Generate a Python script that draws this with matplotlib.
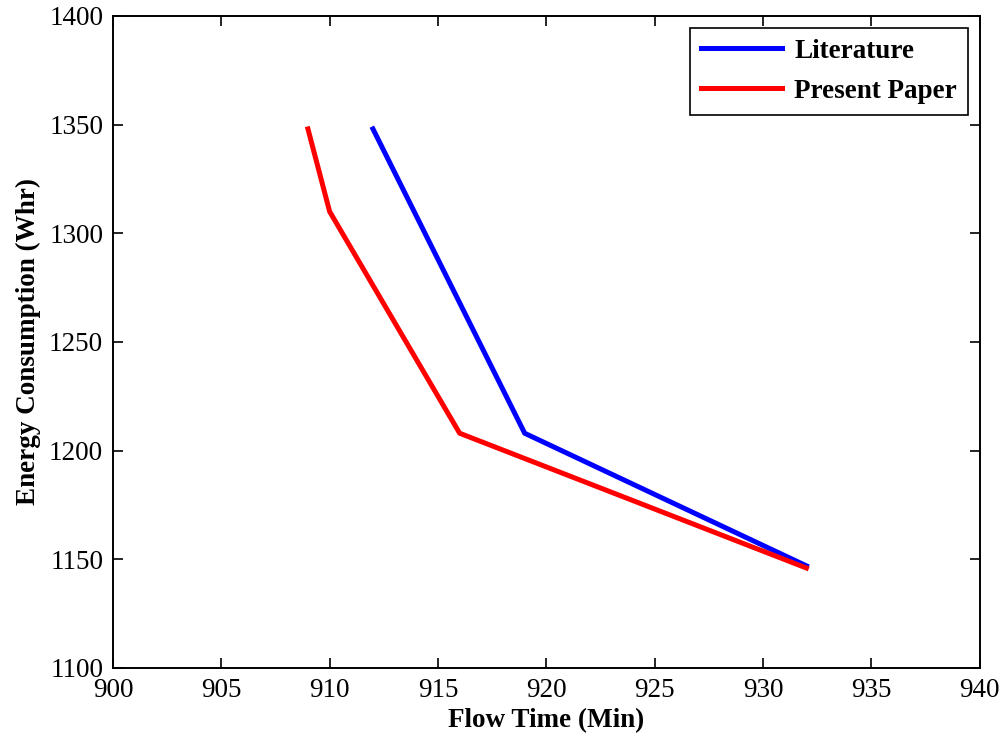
import matplotlib
matplotlib.use('Agg')
import matplotlib.pyplot as plt

lit_time = [912, 919, 932]
lit_energy = [1348, 1208, 1147]

pp_time = [909, 910, 916, 932]
pp_energy = [1348, 1310, 1208, 1146]

xticks = [900, 905, 910, 915, 920, 925, 930, 935, 940]
yticks = [1100, 1150, 1200, 1250, 1300, 1350, 1400]


def main():
    plt.rcParams['font.family'] = ['Liberation Serif', 'DejaVu Serif']
    fig = plt.figure(figsize=(10.08, 7.36), dpi=100)
    ax = fig.add_axes([0.112, 0.0924, 0.860, 0.886])

    ax.plot(lit_time, lit_energy, color='#0000ff', lw=3.6, label='Literature')
    ax.plot(pp_time, pp_energy, color='#ff0000', lw=3.6, label='Present Paper')

    ax.set_xlim(900, 940)
    ax.set_ylim(1100, 1400)
    ax.set_xticks(xticks)
    ax.set_yticks(yticks)
    ax.tick_params(direction='in', top=True, right=True, length=7, width=1.2,
                   labelsize=19.5)
    ax.tick_params(axis='y', pad=7)
    ax.tick_params(axis='x', pad=7)
    for s in ax.spines.values():
        s.set_linewidth(1.4)

    ax.set_xlabel('Flow Time (Min)', fontsize=19.5, fontweight='bold', labelpad=4)
    ax.set_ylabel('Energy Consumption (Whr)', fontsize=19.5, fontweight='bold', labelpad=6)

    leg = ax.legend(loc='upper right', prop={'weight': 'bold', 'size': 19.5},
                    fancybox=False, edgecolor='black', framealpha=1,
                    handlelength=3.0, handletextpad=0.45, borderaxespad=0.45,
                    borderpad=0.4, labelspacing=0.55)
    leg.get_frame().set_linewidth(1.2)

    fig.savefig('out.png', dpi=100)


if __name__ == "__main__":
    main()
